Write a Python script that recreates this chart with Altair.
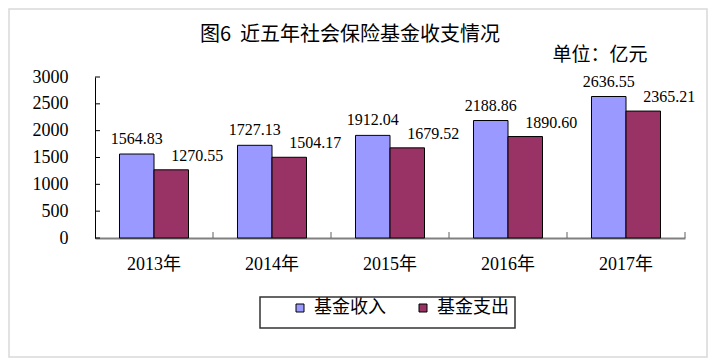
import altair as alt
import pandas as pd

years = ["2013年", "2014年", "2015年", "2016年", "2017年"]
income = [1564.83, 1727.13, 1912.04, 2188.86, 2636.55]
expense = [1270.55, 1504.17, 1679.52, 1890.60, 2365.21]
series = ["基金收入", "基金支出"]
colors = ["#9999FF", "#993366"]
y_ticks = [0, 500, 1000, 1500, 2000, 2500, 3000]
title_text = "图6\u00a0\u00a0近五年社会保险基金收支情况"
unit_text = "单位：亿元"

rows = []
for i, yr in enumerate(years):
    rows.append({"year": yr, "series": series[0], "value": income[i]})
    rows.append({"year": yr, "series": series[1], "value": expense[i]})
df = pd.DataFrame(rows)

SERIF = "Liberation Serif, Noto Sans CJK SC"
CJK = "Noto Sans CJK SC"

x_axis = alt.Axis(title=None, labelAngle=0, labelFont=SERIF, labelFontSize=18,
                  labelColor="black", labelPadding=17, tickSize=0,
                  domainColor="#808080", domainWidth=2)
x_scale = alt.Scale(domain=years, paddingInner=0, paddingOuter=0)


def x_enc(band=0.5):
    return alt.X("year:N", sort=years, scale=x_scale, axis=x_axis, bandPosition=band)


y_scale = alt.Scale(domain=[0, 3000], nice=False)
y_enc = alt.Y(
    "value:Q", scale=y_scale,
    axis=alt.Axis(title=None, values=y_ticks, grid=False, tickSize=0, format="d",
                  labelOverlap=False, labelPadding=27, labelFont=SERIF, labelFontSize=18,
                  labelColor="black", domainColor="black", domainWidth=1),
)
xoff = alt.XOffset("series:N", sort=series,
                   scale=alt.Scale(domain=series, paddingInner=0, paddingOuter=0.71))

base = alt.Chart(df)

bars = base.mark_bar(stroke="black", strokeWidth=1).encode(
    x=alt.X("year:N", sort=years, scale=x_scale, axis=x_axis), xOffset=xoff, y=y_enc,
    color=alt.Color(
        "series:N", sort=series,
        scale=alt.Scale(domain=series, range=colors),
        legend=alt.Legend(
            orient="none", legendX=196, legendY=222, direction="horizontal",
            title=None, symbolType="square", symbolSize=64,
            symbolStrokeColor="black", symbolStrokeWidth=1,
            labelFont=CJK, labelFontSize=18, labelColor="black",
            columnPadding=28, labelOffset=5, padding=0,
        ),
    ),
)

lbl_in = base.transform_filter(alt.datum.series == series[0]).mark_text(
    baseline="bottom", dy=-7, font=SERIF, fontSize=16, color="black"
).encode(x=alt.X("year:N", sort=years, scale=x_scale, axis=x_axis), xOffset=xoff,
         y=y_enc, text=alt.Text("value:Q", format=".2f"))

lbl_out = base.transform_filter(alt.datum.series == series[1]).mark_text(
    baseline="bottom", dy=-6, dx=26, font=SERIF, fontSize=16, color="black"
).encode(x=alt.X("year:N", sort=years, scale=x_scale, axis=x_axis), xOffset=xoff,
         y=y_enc, text=alt.Text("value:Q", format=".2f"))

ytick_rules = alt.Chart(pd.DataFrame({"value": y_ticks})).mark_rule(
    color="black", strokeWidth=1
).encode(y=y_enc, x=alt.value(0), x2=alt.value(5))

xtick_rules = alt.Chart(pd.DataFrame({"year": years})).mark_rule(
    color="#606060", strokeWidth=1
).encode(x=x_enc(1), y=alt.value(155), y2=alt.value(161))

one = pd.DataFrame({"t": [title_text], "u": [unit_text]})

frame = alt.Chart(one).mark_rect(fillOpacity=0, stroke="#d9d9d9", strokeWidth=1.5).encode(
    x=alt.value(-86), x2=alt.value(612), y=alt.value(-68), y2=alt.value(280)
)
legend_box = alt.Chart(one).mark_rect(fill="white", stroke="#333333", strokeWidth=1.5).encode(
    x=alt.value(165), x2=alt.value(420), y=alt.value(220), y2=alt.value(251)
)
title = alt.Chart(one).mark_text(font=CJK, fontSize=20, align="center",
                                 baseline="middle", color="black").encode(
    text="t:N", x=alt.value(255), y=alt.value(-42)
)
unit = alt.Chart(one).mark_text(font=CJK, fontSize=19, align="center",
                                baseline="middle", color="black").encode(
    text="u:N", x=alt.value(505), y=alt.value(-22)
)

chart = alt.layer(
    frame, legend_box, bars, lbl_in, lbl_out, ytick_rules, xtick_rules, title, unit
).properties(
    width=590, height=161,
    padding={"left": 87, "right": 23, "top": 69, "bottom": 120},
    autosize=alt.AutoSizeParams(type="none"),
).configure_view(stroke=None)

chart.save("out.html", embed_options={"renderer": "svg", "actions": False})
